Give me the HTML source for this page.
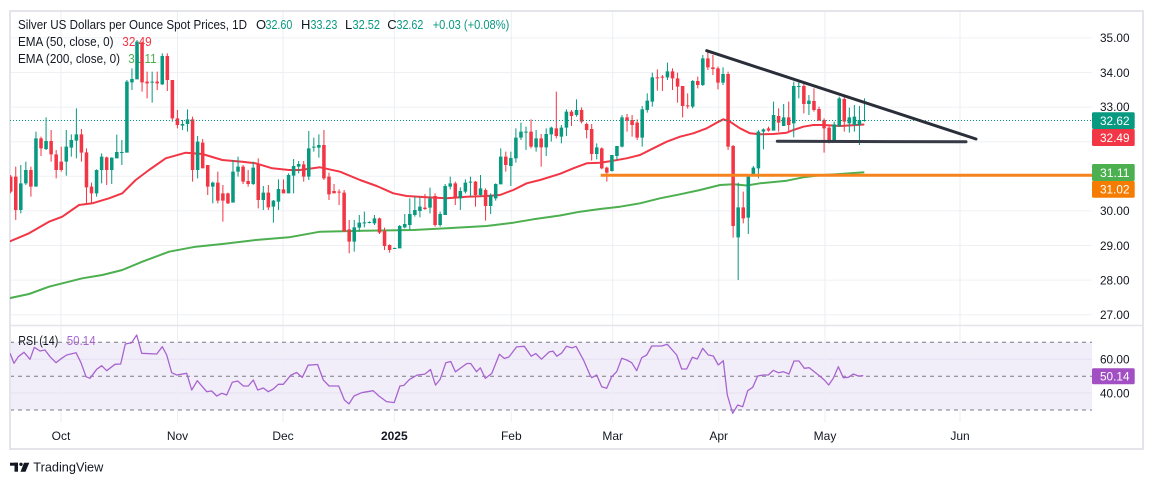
<!DOCTYPE html>
<html><head><meta charset="utf-8">
<style>
html,body{margin:0;padding:0;background:#fff;}
svg{display:block;font-family:"Liberation Sans",Arial,sans-serif;}
</style></head>
<body>
<svg width="1154" height="485" viewBox="0 0 1154 485" xmlns="http://www.w3.org/2000/svg">
<defs>
<clipPath id="pc"><rect x="10" y="11" width="1082" height="314"/></clipPath>
<clipPath id="rc"><rect x="10" y="326" width="1082" height="96"/></clipPath>
</defs>
<rect width="1154" height="485" fill="#fff"/>

<!-- price grid -->
<g stroke="#eef0f4" stroke-width="1">
<line x1="10" y1="37.9" x2="1092" y2="37.9"/>
<line x1="10" y1="72.5" x2="1092" y2="72.5"/>
<line x1="10" y1="107.1" x2="1092" y2="107.1"/>
<line x1="10" y1="141.7" x2="1092" y2="141.7"/>
<line x1="10" y1="176.3" x2="1092" y2="176.3"/>
<line x1="10" y1="210.9" x2="1092" y2="210.9"/>
<line x1="10" y1="245.5" x2="1092" y2="245.5"/>
<line x1="10" y1="280.1" x2="1092" y2="280.1"/>
<line x1="10" y1="314.7" x2="1092" y2="314.7"/>
</g>

<!-- RSI band -->
<rect x="10" y="342.3" width="1082" height="67.7" fill="#f2eef9"/>
<g stroke="#e5e0f1" stroke-width="1">
<line x1="10" y1="359.3" x2="1092" y2="359.3"/>
<line x1="10" y1="393" x2="1092" y2="393"/>
</g>

<!-- vertical grid -->
<g stroke="#eceef3" stroke-width="1">
<line x1="61" y1="11" x2="61" y2="422"/>
<line x1="177.5" y1="11" x2="177.5" y2="422"/>
<line x1="283" y1="11" x2="283" y2="422"/>
<line x1="394.3" y1="11" x2="394.3" y2="422"/>
<line x1="511.3" y1="11" x2="511.3" y2="422"/>
<line x1="612.7" y1="11" x2="612.7" y2="422"/>
<line x1="718.7" y1="11" x2="718.7" y2="422"/>
<line x1="825" y1="11" x2="825" y2="422"/>
<line x1="960" y1="11" x2="960" y2="422"/>
</g>

<g stroke="#787b86" stroke-width="1" stroke-dasharray="4 4">
<line x1="10" y1="342.3" x2="1092" y2="342.3"/>
<line x1="10" y1="376.3" x2="1092" y2="376.3"/>
<line x1="10" y1="410" x2="1092" y2="410"/>
</g>

<!-- frame -->
<rect x="10" y="11" width="1133" height="438" fill="none" stroke="#e3e5ea" stroke-width="2"/>
<line x1="10" y1="325.5" x2="1143" y2="325.5" stroke="#e3e5ea" stroke-width="1.5"/>

<!-- legend -->
<g font-size="13" fill="#131722">
<text x="18" y="29" textLength="229" lengthAdjust="spacingAndGlyphs">Silver US Dollars per Ounce Spot Prices, 1D</text>
<text x="256" y="29">O</text>
<text x="265.5" y="29" fill="#089981" textLength="26.8" lengthAdjust="spacingAndGlyphs">32.60</text>
<text x="301" y="29">H</text>
<text x="310.5" y="29" fill="#089981" textLength="26.8" lengthAdjust="spacingAndGlyphs">33.23</text>
<text x="345" y="29">L</text>
<text x="352.5" y="29" fill="#089981" textLength="27.5" lengthAdjust="spacingAndGlyphs">32.52</text>
<text x="387.3" y="29">C</text>
<text x="396.5" y="29" fill="#089981" textLength="26.8" lengthAdjust="spacingAndGlyphs">32.62</text>
<text x="432.7" y="29" fill="#089981" textLength="76.6" lengthAdjust="spacingAndGlyphs">+0.03 (+0.08%)</text>
<text x="18" y="46" textLength="95.5" lengthAdjust="spacingAndGlyphs">EMA (50, close, 0)</text>
<text x="122.3" y="46" fill="#f23645" textLength="29.4" lengthAdjust="spacingAndGlyphs">32.49</text>
<text x="18" y="63" textLength="102" lengthAdjust="spacingAndGlyphs">EMA (200, close, 0)</text>
<text x="128.3" y="63" fill="#4caf50" textLength="28.4" lengthAdjust="spacingAndGlyphs">31.11</text>
<text x="18.3" y="345" textLength="40" lengthAdjust="spacingAndGlyphs">RSI (14)</text>
<text x="66.7" y="345" fill="#a864cf" textLength="29" lengthAdjust="spacingAndGlyphs">50.14</text>
</g>

<g clip-path="url(#pc)">
<!-- EMA 200 -->
<polyline fill="none" stroke="#4caf50" stroke-width="2" stroke-linejoin="round" points="9,298.3 29,294 49,286.7 82.3,278.3 102.3,275 122.3,270 142.3,261.7 169,251.7 195.7,246.7 222.3,244 255.7,240 289,237.3 320,231.7 363.3,230.7 413.3,230 446.7,228.3 486.7,226 513.3,222.7 533.3,219.3 560,215.5 580,211.7 600,209 620,206.7 640,203.3 660,198.3 680,194.3 700,190 720,185 733.3,184.3 746.7,185.5 760,183.3 786.7,180.7 803.3,177.3 820,175.3 840,174 864.3,172.3"/>
<!-- EMA 50 -->
<polyline fill="none" stroke="#f23645" stroke-width="2" stroke-linejoin="round" points="9,241.7 29,233.3 49,221.7 62.3,216.7 79,205 92.3,203.3 109,198.3 122.3,193.3 135.7,180 149,170 165.7,158.3 185.7,152.7 202.3,154 222.3,160 242.3,161.7 255.7,163.3 272.3,168.3 289,170 300,170 320,167.3 340,171.7 360,180 376.7,186 393.3,193.3 406.7,196 426.7,197.3 446.7,198.3 466.7,196.7 486.7,196 500,195 513.3,190 526.7,183.3 540,180 560,173.8 573.3,168.3 586.7,163.3 600,162.7 613.3,160.7 626.7,158.3 640,155 653.3,148.3 666.7,141.7 680,136.7 693.3,133.3 706.7,128.3 716.7,122.7 723.3,119.3 730,121.7 740,128.3 750,133.3 760,134.3 773.3,134 786.7,132.7 793.3,130 803.3,126.7 813.3,125 823.3,125 840,126 864.3,124.5"/>

<!-- candles -->
<g transform="translate(10.7,30) scale(5.052,0.33333)">
<path fill="#089981" d="M1.9 405h.2V550h-.2zM1.65 460h.7V540h-.7zM2.9 395h.2V465h-.2zM2.65 420h.7V460h-.7zM4.9 305h.2V470h-.2zM4.65 325h.7V470h-.7zM6.9 262h.2V360h-.2zM6.65 333h.7V357h-.7zM10.9 300h.2V437h-.2zM10.65 350h.7V395h-.7zM11.9 313h.2V380h-.2zM11.65 330h.7V353h-.7zM12.9 235h.2V385h-.2zM12.65 313h.7V332h-.7zM16.9 418h.2V500h-.2zM16.65 420h.7V490h-.7zM17.9 370h.2V460h-.2zM17.65 380h.7V420h-.7zM19.9 382h.2V462h-.2zM19.65 383h.7V420h-.7zM20.9 314h.2V385h-.2zM20.65 366h.7V385h-.7zM21.9 330h.2V405h-.2zM21.65 366h.7V369h-.7zM22.9 150h.2V368h-.2zM22.65 155h.7V368h-.7zM23.9 115h.2V180h-.2zM23.65 147h.7V157h-.7zM24.9 30h.2V148h-.2zM24.65 35h.7V148h-.7zM27.9 125h.2V218h-.2zM27.65 155h.7V158h-.7zM29.9 70h.2V165h-.2zM29.65 78h.7V163h-.7zM33.9 270h.2V300h-.2zM33.65 282h.7V287h-.7zM34.9 238h.2V305h-.2zM34.65 268h.7V282h-.7zM36.9 318h.2V445h-.2zM36.65 335h.7V420h-.7zM39.9 455h.2V520h-.2zM39.65 458h.7V470h-.7zM43.9 390h.2V518h-.2zM43.65 425h.7V518h-.7zM44.9 380h.2V440h-.2zM44.65 410h.7V425h-.7zM47.9 395h.2V465h-.2zM47.65 413h.7V462h-.7zM49.9 468h.2V540h-.2zM49.65 488h.7V510h-.7zM51.9 510h.2V578h-.2zM51.65 512h.7V530h-.7zM52.9 448h.2V540h-.2zM52.65 477h.7V515h-.7zM54.9 430h.2V490h-.2zM54.65 435h.7V490h-.7zM55.9 387h.2V490h-.2zM55.65 408h.7V437h-.7zM56.9 393h.2V430h-.2zM56.65 402h.7V410h-.7zM58.9 303h.2V450h-.2zM58.65 355h.7V440h-.7zM59.9 323h.2V365h-.2zM59.65 350h.7V353h-.7zM60.9 313h.2V383h-.2zM60.65 345h.7V353h-.7zM67.9 570h.2V665h-.2zM67.65 592h.7V635h-.7zM68.9 555h.2V605h-.2zM68.65 578h.7V593h-.7zM69.9 545h.2V592h-.2zM69.65 577h.7V580h-.7zM70.9 574h.2V580h-.2zM70.65 576h.7V579h-.7zM71.9 555h.2V585h-.2zM71.65 565h.7V580h-.7zM75.9 653h.2V657h-.2zM75.65 654h.7V657h-.7zM76.9 585h.2V655h-.2zM76.65 588h.7V655h-.7zM77.9 552h.2V595h-.2zM77.65 582h.7V592h-.7zM78.9 505h.2V600h-.2zM78.65 552h.7V585h-.7zM79.9 500h.2V560h-.2zM79.65 540h.7V555h-.7zM80.9 502h.2V562h-.2zM80.65 530h.7V543h-.7zM82.9 473h.2V550h-.2zM82.65 505h.7V533h-.7zM84.9 545h.2V590h-.2zM84.65 552h.7V585h-.7zM85.9 462h.2V555h-.2zM85.65 468h.7V555h-.7zM86.9 440h.2V478h-.2zM86.65 460h.7V470h-.7zM88.9 472h.2V540h-.2zM88.65 483h.7V505h-.7zM89.9 448h.2V490h-.2zM89.65 458h.7V485h-.7zM90.9 440h.2V500h-.2zM90.65 455h.7V458h-.7zM92.9 435h.2V500h-.2zM92.65 475h.7V495h-.7zM94.9 490h.2V552h-.2zM94.65 495h.7V528h-.7zM95.9 460h.2V512h-.2zM95.65 462h.7V505h-.7zM96.9 355h.2V463h-.2zM96.65 380h.7V463h-.7zM98.9 365h.2V468h-.2zM98.65 384h.7V408h-.7zM99.9 295h.2V398h-.2zM99.65 323h.7V385h-.7zM100.9 278h.2V330h-.2zM100.65 305h.7V323h-.7zM101.9 290h.2V360h-.2zM101.65 305h.7V308h-.7zM103.9 300h.2V365h-.2zM103.65 325h.7V352h-.7zM105.9 295h.2V378h-.2zM105.65 312h.7V352h-.7zM106.9 290h.2V335h-.2zM106.65 293h.7V313h-.7zM108.9 285h.2V340h-.2zM108.65 293h.7V320h-.7zM109.9 238h.2V318h-.2zM109.65 245h.7V293h-.7zM111.9 208h.2V260h-.2zM111.65 240h.7V255h-.7zM115.9 340h.2V388h-.2zM115.65 352h.7V372h-.7zM118.9 375h.2V425h-.2zM118.65 375h.7V423h-.7zM119.9 348h.2V390h-.2zM119.65 348h.7V378h-.7zM120.9 255h.2V352h-.2zM120.65 262h.7V350h-.7zM124.9 228h.2V350h-.2zM124.65 238h.7V323h-.7zM125.9 190h.2V248h-.2zM125.65 212h.7V240h-.7zM126.9 128h.2V230h-.2zM126.65 142h.7V215h-.7zM129.9 98h.2V150h-.2zM129.65 124h.7V142h-.7zM134.9 150h.2V235h-.2zM134.65 153h.7V230h-.7zM136.9 75h.2V168h-.2zM136.65 85h.7V165h-.7zM140.9 112h.2V165h-.2zM140.65 132h.7V158h-.7zM143.9 458h.2V750h-.2zM143.65 532h.7V622h-.7zM145.9 432h.2V612h-.2zM145.65 435h.7V563h-.7zM146.9 408h.2V438h-.2zM146.65 413h.7V437h-.7zM147.9 300h.2V445h-.2zM147.65 305h.7V415h-.7zM148.9 295h.2V358h-.2zM148.65 298h.7V305h-.7zM150.9 215h.2V302h-.2zM150.65 255h.7V302h-.7zM152.9 222h.2V288h-.2zM152.65 262h.7V288h-.7zM154.9 155h.2V322h-.2zM154.65 168h.7V280h-.7zM155.9 155h.2V205h-.2zM155.65 168h.7V171h-.7zM157.9 195h.2V255h-.2zM157.65 212h.7V222h-.7zM162.9 275h.2V335h-.2zM162.65 283h.7V333h-.7zM163.9 200h.2V290h-.2zM163.65 205h.7V290h-.7zM165.9 233h.2V308h-.2zM165.65 262h.7V280h-.7zM166.9 225h.2V305h-.2zM166.65 260h.7V285h-.7zM167.9 228h.2V345h-.2zM167.65 270h.7V285h-.7zM168.9 205h.2V275h-.2zM168.65 270h.7V273h-.7z"/>
<path fill="#f23645" d="M-0.1 435h.2V490h-.2zM-0.35 440h.7V485h-.7zM0.9 410h.2V570h-.2zM0.65 440h.7V540h-.7zM3.9 410h.2V500h-.2zM3.65 420h.7V470h-.7zM5.9 320h.2V378h-.2zM5.65 325h.7V355h-.7zM7.9 300h.2V395h-.2zM7.65 333h.7V373h-.7zM8.9 360h.2V445h-.2zM8.65 373h.7V420h-.7zM9.9 350h.2V425h-.2zM9.65 395h.7V420h-.7zM13.9 297h.2V395h-.2zM13.65 313h.7V368h-.7zM14.9 355h.2V520h-.2zM14.65 367h.7V472h-.7zM15.9 458h.2V520h-.2zM15.65 470h.7V490h-.7zM18.9 380h.2V465h-.2zM18.65 382h.7V420h-.7zM25.9 35h.2V185h-.2zM25.65 37h.7V157h-.7zM26.9 125h.2V205h-.2zM26.65 155h.7V160h-.7zM28.9 125h.2V180h-.2zM28.65 155h.7V160h-.7zM30.9 70h.2V183h-.2zM30.65 78h.7V150h-.7zM31.9 150h.2V275h-.2zM31.65 150h.7V265h-.7zM32.9 240h.2V295h-.2zM32.65 265h.7V285h-.7zM35.9 260h.2V455h-.2zM35.65 268h.7V420h-.7zM37.9 327h.2V415h-.2zM37.65 338h.7V415h-.7zM38.9 405h.2V495h-.2zM38.65 405h.7V470h-.7zM40.9 425h.2V520h-.2zM40.65 458h.7V512h-.7zM41.9 465h.2V575h-.2zM41.65 490h.7V512h-.7zM42.9 488h.2V522h-.2zM42.65 490h.7V520h-.7zM45.9 405h.2V462h-.2zM45.65 410h.7V455h-.7zM46.9 420h.2V470h-.2zM46.65 453h.7V462h-.7zM48.9 385h.2V535h-.2zM48.65 402h.7V510h-.7zM50.9 465h.2V540h-.2zM50.65 488h.7V532h-.7zM53.9 448h.2V490h-.2zM53.65 478h.7V490h-.7zM57.9 393h.2V455h-.2zM57.65 403h.7V440h-.7zM61.9 300h.2V450h-.2zM61.65 345h.7V445h-.7zM62.9 428h.2V510h-.2zM62.65 440h.7V493h-.7zM63.9 462h.2V490h-.2zM63.65 483h.7V490h-.7zM64.9 478h.2V525h-.2zM64.65 485h.7V488h-.7zM65.9 480h.2V605h-.2zM65.65 488h.7V605h-.7zM66.9 570h.2V670h-.2zM66.65 598h.7V635h-.7zM72.9 563h.2V612h-.2zM72.65 565h.7V608h-.7zM73.9 593h.2V660h-.2zM73.65 603h.7V648h-.7zM74.9 643h.2V668h-.2zM74.65 645h.7V660h-.7zM81.9 492h.2V540h-.2zM81.65 533h.7V537h-.7zM83.9 490h.2V590h-.2zM83.65 498h.7V585h-.7zM87.9 455h.2V525h-.2zM87.65 460h.7V505h-.7zM91.9 453h.2V530h-.2zM91.65 455h.7V495h-.7zM93.9 475h.2V572h-.2zM93.65 480h.7V528h-.7zM97.9 365h.2V425h-.2zM97.65 380h.7V405h-.7zM102.9 268h.2V355h-.2zM102.65 305h.7V350h-.7zM104.9 312h.2V410h-.2zM104.65 325h.7V352h-.7zM107.9 185h.2V325h-.2zM107.65 295h.7V318h-.7zM110.9 240h.2V288h-.2zM110.65 245h.7V258h-.7zM112.9 232h.2V280h-.2zM112.65 240h.7V275h-.7zM113.9 278h.2V325h-.2zM113.65 282h.7V300h-.7zM114.9 282h.2V392h-.2zM114.65 297h.7V372h-.7zM116.9 352h.2V418h-.2zM116.65 355h.7V415h-.7zM117.9 410h.2V455h-.2zM117.65 413h.7V428h-.7zM121.9 252h.2V305h-.2zM121.65 262h.7V272h-.7zM122.9 255h.2V320h-.2zM122.65 270h.7V285h-.7zM123.9 268h.2V330h-.2zM123.65 278h.7V323h-.7zM127.9 118h.2V182h-.2zM127.65 142h.7V145h-.7zM128.9 135h.2V183h-.2zM128.65 140h.7V143h-.7zM130.9 115h.2V180h-.2zM130.65 124h.7V145h-.7zM131.9 128h.2V218h-.2zM131.65 145h.7V170h-.7zM132.9 168h.2V262h-.2zM132.65 168h.7V228h-.7zM133.9 190h.2V236h-.2zM133.65 226h.7V229h-.7zM135.9 140h.2V175h-.2zM135.65 153h.7V165h-.7zM137.9 62h.2V120h-.2zM137.65 85h.7V112h-.7zM138.9 75h.2V135h-.2zM138.65 112h.7V117h-.7zM139.9 110h.2V178h-.2zM139.65 115h.7V158h-.7zM141.9 125h.2V360h-.2zM141.65 132h.7V350h-.7zM142.9 345h.2V623h-.2zM142.65 348h.7V588h-.7zM144.9 485h.2V580h-.2zM144.65 532h.7V565h-.7zM149.9 290h.2V305h-.2zM149.65 295h.7V302h-.7zM151.9 235h.2V305h-.2zM151.65 258h.7V278h-.7zM153.9 215h.2V305h-.2zM153.65 262h.7V285h-.7zM156.9 158h.2V250h-.2zM156.65 168h.7V222h-.7zM158.9 175h.2V245h-.2zM158.65 213h.7V240h-.7zM159.9 230h.2V272h-.2zM159.65 237h.7V272h-.7zM160.9 265h.2V368h-.2zM160.65 270h.7V295h-.7zM161.9 288h.2V340h-.2zM161.65 293h.7V333h-.7zM164.9 200h.2V305h-.2zM164.65 207h.7V275h-.7z"/>
</g>

<!-- last price dotted line -->
<line x1="10" y1="120.5" x2="1092" y2="120.5" stroke="#089981" stroke-width="1" stroke-dasharray="1 2"/>
<!-- drawings -->
<line x1="600.7" y1="175.3" x2="1092" y2="175.3" stroke="#f7831e" stroke-width="3"/>
<line x1="706.7" y1="50.7" x2="976" y2="139" stroke="#2a2e39" stroke-width="3" stroke-linecap="round"/>
<line x1="777.3" y1="141.3" x2="966" y2="141.8" stroke="#363a45" stroke-width="3" stroke-linecap="round"/>
</g>

<!-- RSI line -->
<g clip-path="url(#rc)">
<polyline fill="none" stroke="#a864cf" stroke-width="1.3" stroke-linejoin="round" points="10,353.3 14,363.3 18.3,356.7 24,352.3 30,359.3 34.3,347.3 40,351 45,350 50,356.7 56,362.7 61.7,358.3 66.7,355 76,352.7 81,362.7 86,376.7 90,378.3 96.7,369.3 101.7,365.7 106.7,370.7 115,364.3 120.7,364 125.3,344 131.7,342.7 136.7,335 141.7,353.3 156.7,354 162.3,346.7 166.7,355 171.7,372.7 176.7,375 186.7,373.3 191.7,390 197.3,380.7 206.7,391.7 211.7,391 216.7,396 221.7,393.3 226.7,395 232.3,382.3 237.7,381 243.3,386 248.3,386 253.3,380 257.7,390 263.3,388 268.3,391.7 273.3,389 278.3,384.3 283.3,384.3 290.9,375.1 296.6,372.5 302.3,377.4 308.1,365.2 317.6,364.5 323.4,380.1 329.1,386 338.7,386 344.4,400 349,403.9 354,396 361.6,392.7 373.1,390.7 378.9,396 386.5,401.6 394.2,402.6 399.9,386 403.8,385.4 409.5,379.4 417.1,375.1 424.8,374.1 430.5,369.5 435.5,385.1 440.1,379.4 445.8,362.8 450.8,361.5 455.4,371.8 466.9,363.5 470.7,363.5 476.5,371.8 480.3,367.8 485.3,378.4 491.8,373.4 499.4,354.2 504.4,358.5 509,356.9 516.6,346.9 524.3,346.3 531.2,356.2 535.8,353.6 541.5,359.2 549.2,351.9 553,351.2 556.8,356.2 561.8,352.9 566.4,346.3 572.1,347.9 576,346.3 583.6,360.2 590,375 591.7,377.7 596.7,375 601.7,386.7 606.7,388.3 611.7,376.7 616.7,371.7 621.7,358.3 626.7,360 631.7,362.7 636.7,370.7 641.7,357.7 646.7,355 651.7,346 661.7,346 667.3,344.3 676.7,355 681.7,369 686.7,369 692.3,357.3 697.3,359 702.7,348.3 708.3,355 713.3,356 718.3,365 723.3,360.7 727.3,395 732.7,413.3 737.7,405 742.7,406.7 747.7,390.7 752.7,387.3 757.7,376 763.3,375 768.3,375 773.3,370.3 778.3,372.7 783.3,371.7 789,374 794,361 799,361 804.3,368.3 809.3,367.7 814.3,371.7 819.3,375.7 824.3,380 828.7,385 833.3,378.3 838.3,366.7 843.3,377.7 848.3,377.3 853.3,374 858.3,376 863.3,375.7"/>
</g>

<!-- price axis labels -->
<g font-size="12" fill="#131722">
<text x="1100" y="42.2" textLength="29.5" lengthAdjust="spacingAndGlyphs">35.00</text>
<text x="1100" y="76.8" textLength="29.5" lengthAdjust="spacingAndGlyphs">34.00</text>
<text x="1100" y="111.2" textLength="29.5" lengthAdjust="spacingAndGlyphs">33.00</text>
<text x="1100" y="215.2" textLength="29.5" lengthAdjust="spacingAndGlyphs">30.00</text>
<text x="1100" y="249.8" textLength="29.5" lengthAdjust="spacingAndGlyphs">29.00</text>
<text x="1100" y="284.4" textLength="29.5" lengthAdjust="spacingAndGlyphs">28.00</text>
<text x="1100" y="319" textLength="29.5" lengthAdjust="spacingAndGlyphs">27.00</text>
<text x="1100" y="363.6" textLength="29.5" lengthAdjust="spacingAndGlyphs">60.00</text>
<text x="1100" y="397.3" textLength="29.5" lengthAdjust="spacingAndGlyphs">40.00</text>
</g>
<rect x="1092" y="112.3" width="42.7" height="16.7" rx="1.5" fill="#089981"/>
<rect x="1092" y="129" width="42.7" height="17" rx="1.5" fill="#f23645"/>
<rect x="1092" y="164" width="42.7" height="17" rx="1.5" fill="#4caf50"/>
<rect x="1092" y="181" width="42.7" height="16.7" rx="1.5" fill="#f57c00"/>
<rect x="1092" y="368.3" width="42.7" height="16" rx="1.5" fill="#a24fc4"/>
<g font-size="12" fill="#ffffff">
<text x="1100" y="125" textLength="29.5" lengthAdjust="spacingAndGlyphs">32.62</text>
<text x="1100" y="141.8" textLength="29.5" lengthAdjust="spacingAndGlyphs">32.49</text>
<text x="1100" y="176.8" textLength="29.5" lengthAdjust="spacingAndGlyphs">31.11</text>
<text x="1100" y="193.6" textLength="29.5" lengthAdjust="spacingAndGlyphs">31.02</text>
<text x="1100" y="380.6" textLength="29.5" lengthAdjust="spacingAndGlyphs">50.14</text>
</g>

<!-- time axis -->
<g font-size="12" fill="#131722" text-anchor="middle">
<text x="61" y="440">Oct</text>
<text x="177.5" y="440">Nov</text>
<text x="283" y="440">Dec</text>
<text x="394.3" y="440" font-weight="bold">2025</text>
<text x="511.3" y="440">Feb</text>
<text x="612.7" y="440">Mar</text>
<text x="718.7" y="440">Apr</text>
<text x="825" y="440">May</text>
<text x="960" y="440">Jun</text>
</g>

<!-- TradingView logo -->
<g fill="#131722">
<rect x="10" y="462.7" width="8" height="3"/>
<rect x="14.5" y="462.7" width="3.5" height="9"/>
<circle cx="21" cy="464.3" r="1.7"/>
<polygon points="24,462.7 29.3,462.7 25.5,471.7 20.5,471.7"/>
<text x="33.3" y="471.5" font-size="12.5" textLength="70" lengthAdjust="spacingAndGlyphs">TradingView</text>
</g>
</svg>
</body></html>
